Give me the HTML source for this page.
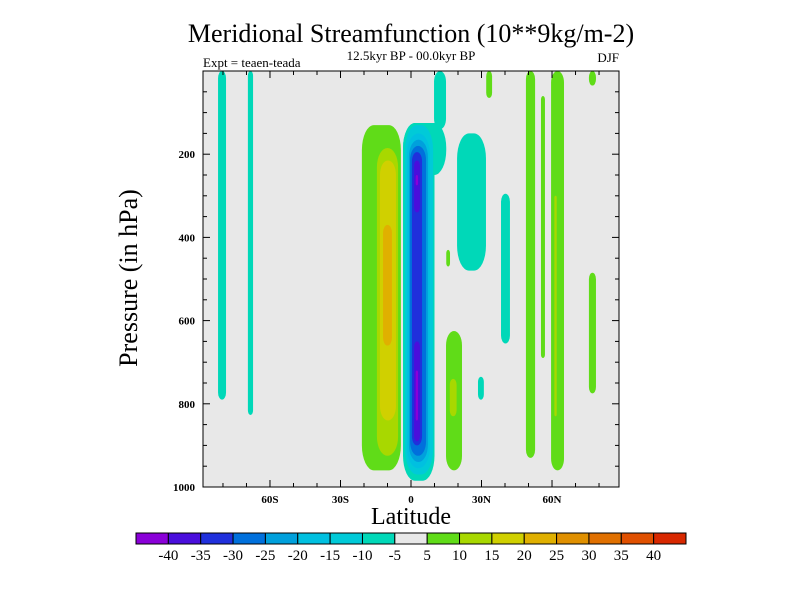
<!DOCTYPE html>
<html><head><meta charset="utf-8"><style>
body{margin:0;background:#fff;width:800px;height:600px;overflow:hidden}
text{font-family:"Liberation Serif",serif}
</style></head><body>
<svg id="chart" width="800" height="600" xmlns="http://www.w3.org/2000/svg">
<rect width="800" height="600" fill="#fff"/>
<text x="411" y="42" font-size="26" text-anchor="middle">Meridional Streamfunction (10**9kg/m-2)</text>
<text x="411" y="60" font-size="13" text-anchor="middle">12.5kyr BP - 00.0kyr BP</text>
<text x="203" y="67" font-size="13">Expt = teaen-teada</text>
<text x="619" y="62" font-size="13" text-anchor="end">DJF</text>
<rect x="203" y="71" width="416" height="416" fill="#e8e8e8"/>
<g id="fields"></g>
<g id="axes"></g>
<text transform="translate(137,278) rotate(-90)" font-size="26" text-anchor="middle">Pressure (in hPa)</text>
<text x="411" y="524" font-size="24" text-anchor="middle">Latitude</text>
<g id="cbar"></g>
</svg>
<script>
const levels=[-40,-35,-30,-25,-20,-15,-10,-5,5,10,15,20,25,30,35,40];
const colors=["#8a00d8","#4a0edc","#2030dc","#0070dc","#00a0dc","#00c0e0","#00cad8","#00d8b8","#e8e8e8","#60dc18","#a8d800","#d0d000","#e0b000","#e09000","#e07000","#e05000","#d82800"];
const yTicks=[200,400,600,800,1000];
const xTicks=[-60,-30,0,30,60];
const xTickLabels=["60S","30S","0","30N","60N"];
const featLat0=[-82.1,-69.4,-20.9,-14.5,-13.2,-11.9,-3.4,-3.4,9.8,-2.5,-1.7,-0.9,-0.4,0.4,1.3,1.3,2.0,2.0,19.6,38.3,15,14.9,16.5,28.5,32,48.9,55.3,59.6,61.0,75.7,75.7];
const featLat1=[-78.7,-67.2,-4.3,-5.5,-6.4,-8.1,15,10,14.9,9.4,8,7.2,6.4,4.7,3.8,3.8,3.0,3.0,31.9,42.1,16.6,21.7,19.4,31,34.5,52.8,57,65.1,62.0,78.7,78.7];
const featP0=[0,0,130,185,215,370,125,125,0,130,150,165,180,195,215,650,250,720,150,295,430,625,740,735,0,0,60,0,300,0,485];
const featP1=[790,827,960,925,840,660,250,985,140,970,955,940,925,900,340,890,275,840,480,655,470,960,830,790,65,930,690,960,830,35,775];
const featVal=[-7,-7,7,12,17,22,-7,-7,-7,-12,-17,-22,-27,-32,-37,-37,-42,-42,-7,-7,7,7,12,-7,7,7,7,7,12,7,7];
const X0=203,X1=619,Y0=71,Y1=487;
const xOf=lat=>411+lat*(X1-X0)/177;
const yOf=p=>Y0+p*(Y1-Y0)/1000;
function colorFor(v){let i=0;while(i<levels.length&&v>levels[i])i++;return colors[i];}
const NS="http://www.w3.org/2000/svg";
const fg=document.getElementById('fields');
for(let i=0;i<featVal.length;i++){
 const x=xOf(featLat0[i]),x2=xOf(featLat1[i]),y=yOf(featP0[i]),y2=yOf(featP1[i]);
 const w=x2-x,h=y2-y;
 const r=document.createElementNS(NS,'rect');
 
 
 r.setAttribute('x',x);r.setAttribute('y',y);r.setAttribute('width',w);r.setAttribute('height',h);
 r.setAttribute('rx',Math.min(w/2,12));r.setAttribute('ry',Math.min(h/2,w*0.9,25));
 r.setAttribute('fill',colorFor(featVal[i]));
 fg.appendChild(r);
}
const ax=document.getElementById('axes');
function line(x1,y1,x2,y2,name){const l=document.createElementNS(NS,'line');
 
 
 l.setAttribute('x1',x1);l.setAttribute('y1',y1);l.setAttribute('x2',x2);l.setAttribute('y2',y2);l.setAttribute('stroke','#000');l.setAttribute('stroke-width','1');ax.appendChild(l);}
function txt(x,y,s,anchor,name){const t=document.createElementNS(NS,'text');
 
 
 t.setAttribute('x',x);t.setAttribute('y',y);t.setAttribute('font-size','11');t.setAttribute('font-weight','bold');t.setAttribute('text-anchor',anchor);t.textContent=s;ax.appendChild(t);}
const fr=document.createElementNS(NS,'rect');


fr.setAttribute('x',X0);fr.setAttribute('y',Y0);fr.setAttribute('width',X1-X0);fr.setAttribute('height',Y1-Y0);fr.setAttribute('fill','none');fr.setAttribute('stroke','#000');ax.appendChild(fr);
for(let p=50;p<=1000;p+=50){const y=yOf(p);const major=p%200===0;const L=major?7:4;
 line(X0,y,X0+L,y,'y-tick');line(X1,y,X1-L,y,'y-tick-right');}
yTicks.forEach(p=>txt(X0-8,yOf(p)+4,String(p),'end','y-tick-label'));
for(let lat=-80;lat<=80;lat+=10){const x=xOf(lat);const major=lat%30===0;const L=major?7:4;
 line(x,Y1,x,Y1-L,'x-tick');line(x,Y0,x,Y0+L,'x-tick-top');}
xTicks.forEach((lat,i)=>txt(xOf(lat),Y1+16,xTickLabels[i],'middle','x-tick-label'));
const cb=document.getElementById('cbar');const CX=136,CW=550,CY=533,CH=11,bw=CW/colors.length;
colors.forEach((c,i)=>{const r=document.createElementNS(NS,'rect');
 
 
 r.setAttribute('x',CX+i*bw);r.setAttribute('y',CY);r.setAttribute('width',bw);r.setAttribute('height',CH);r.setAttribute('fill',c);r.setAttribute('stroke','#000');r.setAttribute('stroke-width','1');cb.appendChild(r);});
levels.forEach((v,i)=>{const t=document.createElementNS(NS,'text');
 
 
 t.setAttribute('x',CX+(i+1)*bw);t.setAttribute('y',CY+27);t.setAttribute('font-size','15');t.setAttribute('text-anchor','middle');t.textContent=String(v);cb.appendChild(t);});
</script>
</body></html>
